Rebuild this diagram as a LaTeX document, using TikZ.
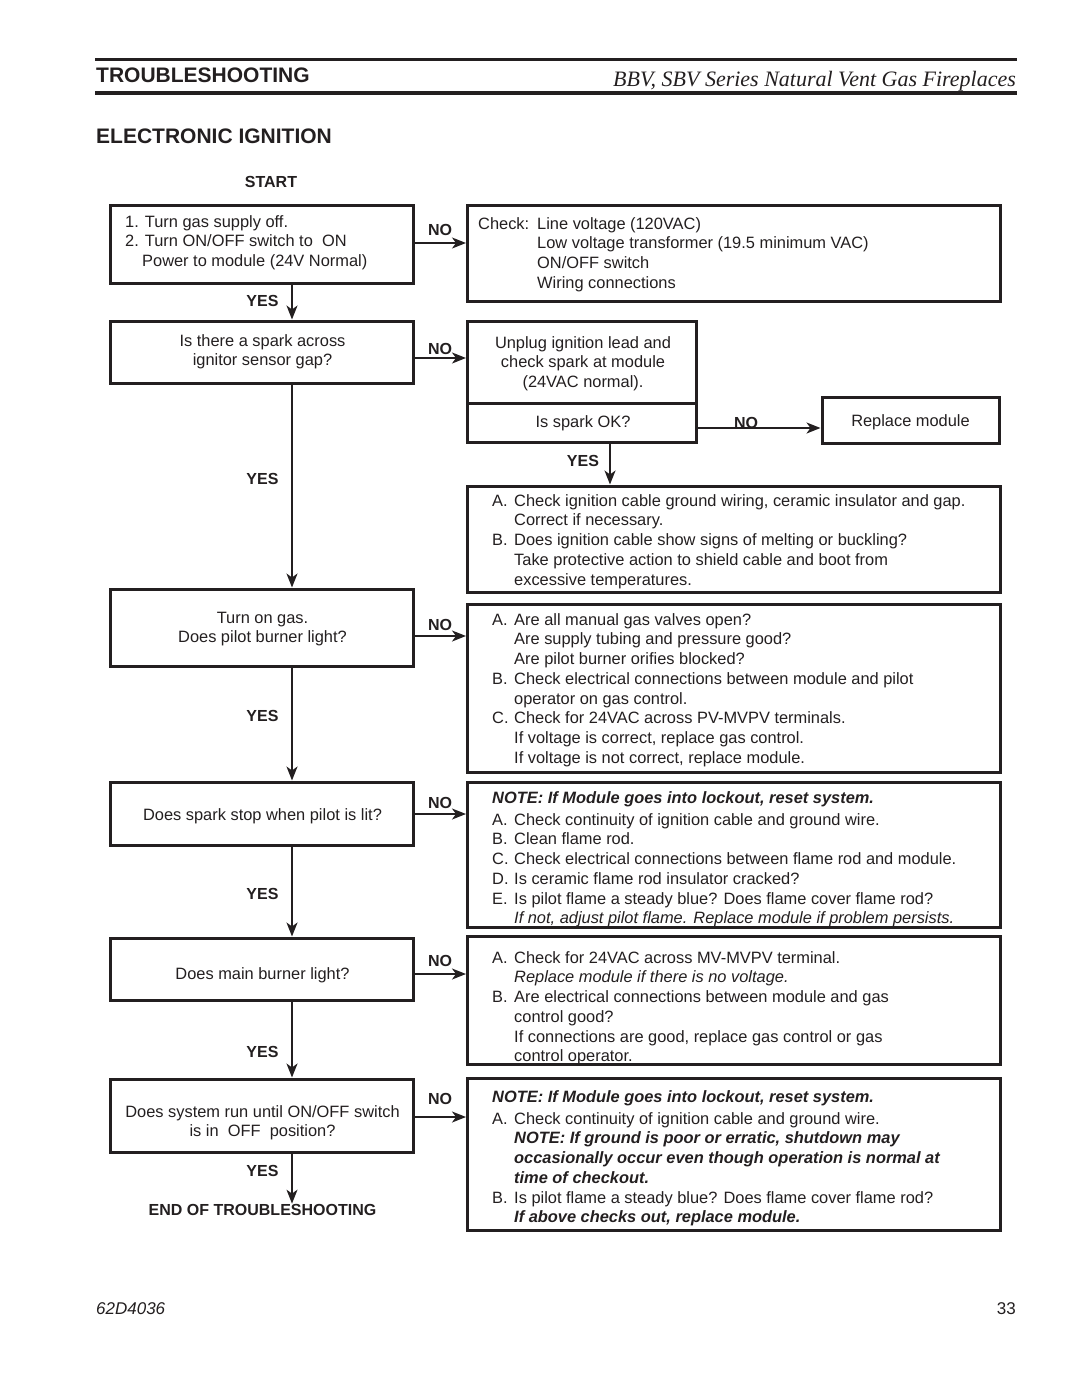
\documentclass[tikz,border=0pt]{standalone}
\usepackage{fontspec}
\setmainfont{Liberation Sans}
\newfontfamily\hdrserif{Liberation Serif}
\usetikzlibrary{arrows.meta}
\definecolor{ink}{HTML}{231F20}
\newcommand{\lft}[1]{\begin{tabular}[t]{@{}l@{}}#1\end{tabular}}
\newcommand{\ctr}[1]{\begin{tabular}[t]{@{}c@{}}#1\end{tabular}}
\newcommand{\itm}[1]{\makebox[22pt][l]{#1}}
\newcommand{\ind}{\hspace*{22pt}}
\newcommand{\bi}{\bfseries\itshape}
\begin{document}
\begin{tikzpicture}[x=1pt,y=-1pt,
  box/.style={draw=ink, line width=3pt, rectangle, inner sep=0pt},
  body/.style={font=\fontsize{16.4}{19.75}\selectfont, text=ink, inner sep=0pt, anchor=base west},
  bodyc/.style={font=\fontsize{16.4}{19.75}\selectfont, text=ink, inner sep=0pt, anchor=base},
  lbl/.style={font=\fontsize{16}{19}\selectfont\bfseries, text=ink, inner sep=0pt, anchor=base},
  arr/.style={draw=ink, line width=1.5pt, -{Stealth[length=14pt,width=11pt,inset=4pt]}}]
\useasboundingbox (0,0) rectangle (1080,1397);
\fill[white] (0,0) rectangle (1080,1397);

% header
\draw[ink, line width=3pt] (95,60) -- (1017,60);
\draw[ink, line width=4pt] (95,93) -- (1017,93);
\node[font=\fontsize{21}{24}\selectfont\bfseries, text=ink, inner sep=0pt, anchor=base west] (hdr) at (96,82) {TROUBLESHOOTING};
\node[font=\fontsize{22}{26}\selectfont\hdrserif\itshape, text=ink, inner sep=0pt, anchor=base east] (hdrr) at (1016,86) {BBV, SBV Series Natural Vent Gas Fireplaces};
\node[font=\fontsize{21}{24}\selectfont\bfseries, text=ink, inner sep=0pt, anchor=base west] (title) at (96,143) {ELECTRONIC IGNITION};
\node[lbl] (start) at (271,187) {START};

% left column boxes
\node[box, minimum width=303pt, minimum height=77.5pt] (b1) at (262,244.25) {};
\node[box, minimum width=303pt, minimum height=62pt] (b2) at (262,352) {};
\node[box, minimum width=303pt, minimum height=77pt] (b3) at (262,627.5) {};
\node[box, minimum width=303pt, minimum height=63pt] (b4) at (262,813.5) {};
\node[box, minimum width=303pt, minimum height=62pt] (b5) at (262,969) {};
\node[box, minimum width=303pt, minimum height=73pt] (b6) at (262,1115.5) {};

\node[body] (t1) at (125,227) {\lft{1. Turn gas supply off.\\2. Turn ON/OFF switch to~ ON\\\hspace*{17pt}Power to module (24V Normal)}};
\node[bodyc] (t2) at (262.5,346) {\ctr{Is there a spark across\\ignitor sensor gap?}};
\node[bodyc] (t3) at (262.5,623) {\ctr{Turn on gas.\\Does pilot burner light?}};
\node[bodyc] (t4) at (262.5,820) {Does spark stop when pilot is lit?};
\node[bodyc] (t5) at (262.5,979) {Does main burner light?};
\node[bodyc] (t6) at (262.5,1117) {\ctr{Does system run until ON/OFF switch\\is in~ OFF~ position?}};
\node[lbl] (endt) at (262.5,1215) {END OF TROUBLESHOOTING};

% right column boxes
\node[box, minimum width=533pt, minimum height=95.5pt] (r1) at (734,253.25) {};
\node[box, minimum width=229pt, minimum height=82pt] (r2a) at (582,362) {};
\node[box, minimum width=229pt, minimum height=39pt] (r2b) at (582,422.5) {};
\node[box, minimum width=177.5pt, minimum height=46pt] (rep) at (910.75,420) {};
\node[box, minimum width=533pt, minimum height=106pt] (r3) at (734,539) {};
\node[box, minimum width=533pt, minimum height=168pt] (r4) at (734,688) {};
\node[box, minimum width=533pt, minimum height=145pt] (r5) at (734,854.5) {};
\node[box, minimum width=533pt, minimum height=128pt] (r6) at (734,1000) {};
\node[box, minimum width=533pt, minimum height=152pt] (r7) at (734,1154) {};

\node[body] (s1) at (478,229) {\lft{\makebox[59pt][l]{Check:}Line voltage (120VAC)\\
  \hspace*{59pt}Low voltage transformer (19.5 minimum VAC)\\
  \hspace*{59pt}ON/OFF switch\\
  \hspace*{59pt}Wiring connections}};
\node[bodyc] (s2a) at (583,348) {\ctr{Unplug ignition lead and\\check spark at module\\(24VAC normal).}};
\node[bodyc] (s2b) at (583,427) {Is spark OK?};
\node[bodyc] (srep) at (910.5,426) {Replace module};
\node[body] (s3) at (492,506) {\lft{\itm{A.}Check ignition cable ground wiring, ceramic insulator and gap.\\
  \ind Correct if necessary.\\
  \itm{B.}Does ignition cable show signs of melting or buckling?\\
  \ind Take protective action to shield cable and boot from\\
  \ind excessive temperatures.}};
\node[body] (s4) at (492,625) {\lft{\itm{A.}Are all manual gas valves open?\\
  \ind Are supply tubing and pressure good?\\
  \ind Are pilot burner orifies blocked?\\
  \itm{B.}Check electrical connections between module and pilot\\
  \ind operator on gas control.\\
  \itm{C.}Check for 24VAC across PV-MVPV terminals.\\
  \ind If voltage is correct, replace gas control.\\
  \ind If voltage is not correct, replace module.}};
\node[body] (s5) at (492,803) {\lft{{\bi NOTE: If Module goes into lockout, reset system.}\\[2.25pt]
  \itm{A.}Check continuity of ignition cable and ground wire.\\
  \itm{B.}Clean flame rod.\\
  \itm{C.}Check electrical connections between flame rod and module.\\
  \itm{D.}Is ceramic flame rod insulator cracked?\\
  \itm{E.}Is pilot flame a steady blue? Does flame cover flame rod?\\
  \ind{\itshape If not, adjust pilot flame. Replace module if problem persists.}}};
\node[body] (s6) at (492,963) {\lft{\itm{A.}Check for 24VAC across MV-MVPV terminal.\\
  \ind{\itshape Replace module if there is no voltage.}\\
  \itm{B.}Are electrical connections between module and gas\\
  \ind control good?\\
  \ind If connections are good, replace gas control or gas\\
  \ind control operator.}};
\node[body] (s7) at (492,1102) {\lft{{\bi NOTE: If Module goes into lockout, reset system.}\\[2.25pt]
  \itm{A.}Check continuity of ignition cable and ground wire.\\
  \ind{\bi NOTE: If ground is poor or erratic, shutdown may}\\
  \ind{\bi occasionally occur even though operation is normal at}\\
  \ind{\bi time of checkout.}\\
  \itm{B.}Is pilot flame a steady blue? Does flame cover flame rod?\\
  \ind{\bi If above checks out, replace module.}}};

% YES connectors
\draw[arr] ([xshift=30pt]b1.south) -- ([xshift=30pt]b2.north);
\draw[arr] ([xshift=30pt]b2.south) -- ([xshift=30pt]b3.north);
\draw[arr] ([xshift=30pt]b3.south) -- ([xshift=30pt]b4.north);
\draw[arr] ([xshift=30pt]b4.south) -- ([xshift=30pt]b5.north);
\draw[arr] ([xshift=30pt]b5.south) -- ([xshift=30pt]b6.north);
\draw[arr] ([xshift=30pt]b6.south) -- ([xshift=30pt]b6.south |- endt.north);
\draw[arr] ([xshift=28pt]r2b.south) -- ([xshift=28pt]r2b.south |- r3.north);
\node[lbl] (y1) at (262.5,306) {YES};
\node[lbl] (y2) at (262.5,484) {YES};
\node[lbl] (y3) at (262.5,721) {YES};
\node[lbl] (y4) at (262.5,899) {YES};
\node[lbl] (y5) at (262.5,1057) {YES};
\node[lbl] (y6) at (262.5,1176) {YES};
\node[lbl] (y7) at (583,466) {YES};

% NO connectors
\draw[arr] ([yshift=1.25pt]b1.east) -- ([yshift=1.25pt]b1.east -| r1.west);
\draw[arr] ([yshift=-6pt]b2.east) -- ([yshift=-6pt]b2.east -| r2a.west);
\draw[arr] ([yshift=-8.5pt]b3.east) -- ([yshift=-8.5pt]b3.east -| r4.west);
\draw[arr] ([yshift=-0.5pt]b4.east) -- ([yshift=-0.5pt]b4.east -| r5.west);
\draw[arr] ([yshift=-5pt]b5.east) -- ([yshift=-5pt]b5.east -| r6.west);
\draw[arr] ([yshift=-1.5pt]b6.east) -- ([yshift=-1.5pt]b6.east -| r7.west);
\draw[arr] ([yshift=-5.5pt]r2b.east) -- ([yshift=-5.5pt]r2b.east -| rep.west);
\node[lbl] (n1) at (440,235) {NO};
\node[lbl] (n2) at (440,354) {NO};
\node[lbl] (n3) at (440,630) {NO};
\node[lbl] (n4) at (440,808) {NO};
\node[lbl] (n5) at (440,966) {NO};
\node[lbl] (n6) at (440,1104) {NO};
\node[lbl] (n7) at (746,428) {NO};

% footer
\node[font=\fontsize{17}{20}\selectfont\itshape, text=ink, inner sep=0pt, anchor=base west] (code) at (96,1314) {62D4036};
\node[font=\fontsize{17}{20}\selectfont, text=ink, inner sep=0pt, anchor=base east] (page) at (1016,1314) {33};
\end{tikzpicture}
\end{document}
